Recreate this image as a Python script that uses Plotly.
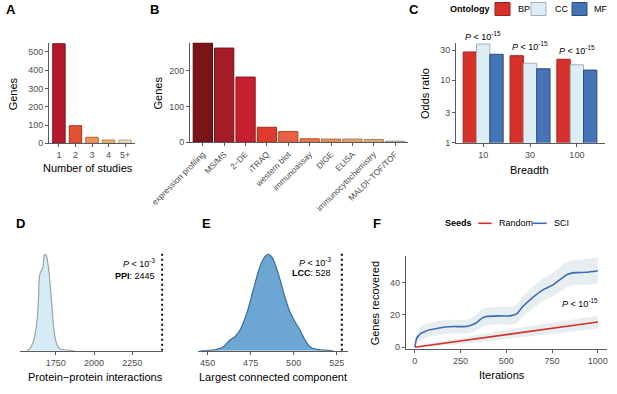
import plotly.graph_objects as go

W, H = 617, 394
FONT = "Liberation Sans, Arial, Helvetica, sans-serif"

# ---------------- data ----------------
# A: number of studies
study_counts = ["1", "2", "3", "4", "5+"]
study_genes = [545, 96, 33, 18, 18]
study_fill = ["#b31b2c", "#e2502f", "#f2915b", "#e9b470", "#e8d6bf"]
study_line = ["#7d1019", "#a8321c", "#b8602f", "#b58340", "#b8a58e"]

# B: methods
methods = ["expression profiling", "MS/MS", "2\u2212DE", "iTRAQ", "western blot",
           "immunoassay", "DIGE", "ELISA", "immunocytochemistry", "MALDI\u2212TOF/TOF"]
method_genes = [278, 263, 182, 42, 30, 10, 9, 9, 8, 3]
method_fill = ["#7b1418", "#a51b27", "#c7202d", "#df3a2a", "#eb5f45",
               "#e27a4f", "#e39260", "#e5a36e", "#d9b080", "#c9bba6"]
method_line = ["#4a0a0d", "#6e1019", "#8e1620", "#a8281d", "#b4452f",
               "#ad5a36", "#ad6c45", "#ad7a50", "#a5845e", "#989080"]

# C: odds ratios by breadth and ontology
breadth = ["10", "30", "100"]
or_bp = [28.0, 24.4, 21.4]
or_cc = [37.5, 18.5, 17.5]
or_mf = [25.7, 15.1, 14.4]
ontologies = ["BP", "CC", "MF"]
ont_fill = ["#d7312b", "#dcedf5", "#4474b5"]
ont_line = ["#a01f1c", "#a3b1ba", "#2a4a80"]

# D: null distribution of protein-protein interactions (relative density)
ppi_x = [1560, 1582, 1604, 1626, 1637, 1648, 1665, 1676, 1685, 1691, 1702,
         1713, 1724, 1734, 1745, 1756, 1767, 1778, 1822, 1870]
ppi_density = [0, 2.3, 9, 27, 50.7, 77.3, 82.3, 95.7, 96.3, 94, 84,
               67.3, 47.3, 27.3, 14, 6.7, 3.3, 1.7, 0.7, 0]
ppi_observed = 2445

# E: null distribution of largest connected component (relative density)
lcc_x = [446, 452, 455.2, 459.1, 463, 465.9, 468.8, 472.7, 476.5, 480.4, 483.3,
         485.2, 487.2, 491, 494.9, 497.8, 500.8, 503.7, 506.6, 509.5, 513.4, 518, 523]
lcc_density = [0, 0.5, 1.3, 4, 10.7, 14, 20.7, 37.3, 60.7, 84, 94,
               96.7, 94, 77.3, 54, 39, 29, 20.7, 10.7, 4, 1.3, 0.6, 0.2]
lcc_observed = 528

# F: genes recovered over iterations
sci_iter = [0, 10, 20, 35, 55, 75, 100, 155, 210, 280, 320, 345, 365, 390,
            465, 520, 555, 590, 645, 700, 755, 790, 835, 880, 935, 1000]
sci_mean = [0, 5.6, 7.0, 8.7, 9.7, 10.7, 11.1, 12.4, 12.8, 12.8, 14.2, 15.9, 17.9, 19.0,
            19.4, 19.4, 20.6, 25.2, 30.9, 35.5, 38.6, 41.6, 45.2, 46.2, 46.4, 47.4]
sci_hi = [0, 9, 11, 13, 14, 15, 15.5, 16.5, 17, 17, 19, 21, 23.5, 24.5,
          25, 25, 26.5, 31.5, 37.5, 42.5, 46, 49.5, 53, 54, 54.5, 55.5]
sci_lo = [0, 2.5, 3.5, 4.5, 5.5, 6.5, 6.8, 8, 8.5, 8.5, 9.5, 11, 12.5, 13.5,
          14, 14, 15, 19, 24, 28.5, 31.5, 34, 37.5, 38.5, 38.5, 39.5]
rnd_iter = [0, 250, 500, 750, 1000]
rnd_mean = [0, 3.9, 7.9, 11.8, 15.6]
rnd_hi = [0.5, 5.8, 10.8, 15.2, 19.5]
rnd_lo = [0, 2.0, 5.0, 8.3, 11.5]

# ---------------- helpers ----------------
def xd(a, b):
    return [a / W, b / W]

def yd(top, bot):
    return [1 - bot / H, 1 - top / H]

AX = dict(showline=True, linecolor="#5a5a5a", linewidth=1, ticks="outside", ticklen=3,
          tickcolor="#5a5a5a", tickwidth=1, tickfont=dict(size=9, color="#4d4d4d", family=FONT),
          showgrid=False, zeroline=False, fixedrange=True, automargin=False)
HID = dict(visible=False, fixedrange=True, showgrid=False, zeroline=False)

annotations = []

def ann(x, y, text, size=11, xanchor="center", angle=0, color="#000", bold=False):
    if bold:
        text = "<b>" + text + "</b>"
    annotations.append(dict(x=x / W, y=1 - y / H, xref="paper", yref="paper", text=text,
                            showarrow=False, xanchor=xanchor, yanchor="middle", textangle=angle,
                            font=dict(size=size, color=color, family=FONT)))

fig = go.Figure()

# A
fig.add_trace(go.Bar(x=study_counts, y=study_genes, width=0.75,
                     marker=dict(color=study_fill, line=dict(color=study_line, width=1)),
                     xaxis="x", yaxis="y", showlegend=False))
# B
fig.add_trace(go.Bar(x=methods, y=method_genes, width=0.9,
                     marker=dict(color=method_fill, line=dict(color=method_line, width=1)),
                     xaxis="x2", yaxis="y2", showlegend=False))
# C
for name, vals, fc, lc in zip(ontologies, [or_bp, or_cc, or_mf], ont_fill, ont_line):
    fig.add_trace(go.Bar(x=breadth, y=vals, name=name,
                         marker=dict(color=fc, line=dict(color=lc, width=1)),
                         xaxis="x3", yaxis="y3", showlegend=False))
# D
fig.add_trace(go.Scatter(x=ppi_x, y=ppi_density, mode="lines", line=dict(color="#9aa4aa", width=1.2, shape="spline"),
                         fill="tozeroy", fillcolor="#d5ebf5", xaxis="x4", yaxis="y4", showlegend=False))
fig.add_trace(go.Scatter(x=[ppi_observed, ppi_observed], y=[0, 98], mode="lines",
                         line=dict(color="#000", width=2, dash="2px,3px"),
                         xaxis="x4", yaxis="y4", showlegend=False))
# E
fig.add_trace(go.Scatter(x=lcc_x, y=lcc_density, mode="lines", line=dict(color="#3d6c96", width=1.2, shape="spline"),
                         fill="tozeroy", fillcolor="#6ba7d2", xaxis="x5", yaxis="y5", showlegend=False))
fig.add_trace(go.Scatter(x=[lcc_observed, lcc_observed], y=[0, 98], mode="lines",
                         line=dict(color="#000", width=2, dash="2px,3px"),
                         xaxis="x5", yaxis="y5", showlegend=False))
# F bands
BAND = "#e7eef1"
for it, lo, hi in [(rnd_iter, rnd_lo, rnd_hi), (sci_iter, sci_lo, sci_hi)]:
    fig.add_trace(go.Scatter(x=it, y=lo, mode="lines", line=dict(width=0, shape="spline"),
                             xaxis="x6", yaxis="y6", showlegend=False, hoverinfo="skip"))
    fig.add_trace(go.Scatter(x=it, y=hi, mode="lines", line=dict(width=0, shape="spline"),
                             fill="tonexty", fillcolor=BAND, xaxis="x6", yaxis="y6",
                             showlegend=False, hoverinfo="skip"))
fig.add_trace(go.Scatter(x=rnd_iter, y=rnd_mean, mode="lines", name="Random",
                         line=dict(color="#d7302a", width=1.6), xaxis="x6", yaxis="y6", showlegend=False))
fig.add_trace(go.Scatter(x=sci_iter, y=sci_mean, mode="lines", name="SCI",
                         line=dict(color="#3d6cb3", width=1.6, shape="spline", smoothing=0.6),
                         xaxis="x6", yaxis="y6", showlegend=False))

layout = dict(
    width=W, height=H, margin=dict(l=0, r=0, t=0, b=0),
    paper_bgcolor="white", plot_bgcolor="white",
    font=dict(family=FONT, size=9, color="#000"),
    barmode="group", bargap=0.147, bargroupgap=0,
    xaxis=dict(AX, domain=xd(49, 135), type="category", range=[-0.6, 4.6], anchor="y"),
    yaxis=dict(AX, domain=yd(43, 143.3), range=[0, 549], tickvals=[0, 100, 200, 300, 400, 500], anchor="x"),
    xaxis2=dict(AX, domain=xd(190, 408), type="category", range=[-0.6, 9.6], anchor="y2",
                tickangle=-45, tickfont=dict(size=8.3, color="#4d4d4d", family=FONT)),
    yaxis2=dict(AX, domain=yd(42.7, 142.3), range=[0, 278], tickvals=[0, 100, 200], anchor="x2"),
    xaxis3=dict(AX, domain=xd(456, 605), type="category", range=[-0.58, 2.6], anchor="y3"),
    yaxis3=dict(AX, domain=yd(42.7, 142.7), type="log", range=[0, 1.595], tickvals=[1, 3, 10, 30], anchor="x3"),
    xaxis4=dict(AX, domain=xd(20, 163.3), range=[1517, 2452], tickvals=[1750, 2000, 2250], anchor="y4"),
    yaxis4=dict(HID, domain=yd(250.7, 350.7), range=[0, 100], anchor="x4"),
    xaxis5=dict(AX, domain=xd(198, 348), range=[444.4, 531.6], tickvals=[450, 475, 500, 525], anchor="y5"),
    yaxis5=dict(HID, domain=yd(250.7, 350.7), range=[0, 100], anchor="x5"),
    xaxis6=dict(AX, domain=xd(405.7, 607), range=[-50, 1050], tickvals=[0, 250, 500, 750, 1000], anchor="y6"),
    yaxis6=dict(AX, domain=yd(256, 349.3), range=[-1.3, 56.5], tickvals=[0, 20, 40], anchor="x6"),
)

# panel letters
for lab, x, y in [("A", 11, 10), ("B", 154, 10), ("C", 414, 9), ("D", 20, 223), ("E", 206, 223), ("F", 377, 223)]:
    ann(x, y, lab, size=13, bold=True)

# axis titles
ann(13.3, 94, "Genes", angle=-90)
ann(87.5, 168.3, "Number of studies")
ann(157.5, 93, "Genes", angle=-90)
ann(425, 94, "Odds ratio", angle=-90)
ann(529, 170, "Breadth")
ann(95, 376.7, "Protein\u2212protein interactions")
ann(273.3, 376.7, "Largest connected component")
ann(375, 303.3, "Genes recovered", angle=-90)
ann(502, 375, "Iterations")

# statistics (category axis: annotation x is the category index)
P15 = "<i>P</i> < 10<sup>-15</sup>"
for i, y in enumerate([35.5, 46, 49.5]):
    annotations.append(dict(x=i, y=1 - y / H, xref="x3", yref="paper", text=P15,
                            showarrow=False, xanchor="center", yanchor="middle",
                            font=dict(size=9, color="#000", family=FONT)))
ann(156.7, 263.3, "<i>P</i> < 10<sup>-3</sup>", size=9, xanchor="right")
ann(156.7, 276, "<b>PPI</b>: 2445", size=9, xanchor="right")
ann(332.7, 261.7, "<i>P</i> < 10<sup>-3</sup>", size=9, xanchor="right")
ann(332.7, 273.3, "<b>LCC</b>: 528", size=9, xanchor="right")
ann(600, 302.7, P15, size=9, xanchor="right")

# legends (manual keys)
shapes = []
ann(469.5, 9, "Ontology", size=9, bold=True)
for (x0, x1), name, fc, lc, tx in zip([(495, 510), (531, 546), (572, 587)], ontologies, ont_fill, ont_line, [516, 553, 592]):
    shapes.append(dict(type="rect", xref="paper", yref="paper", x0=x0 / W, x1=x1 / W,
                       y0=1 - 15.5 / H, y1=1 - 2.5 / H, fillcolor=fc, line=dict(color=lc, width=1)))
    ann(tx, 9, name, size=9, xanchor="left")
ann(458, 223.3, "Seeds", size=9, bold=True)
for (x0, x1), name, col, tx in zip([(478.3, 491.7), (532.7, 546.7)], ["Random", "SCI"], ["#d7302a", "#3d6cb3"], [496.7, 551.5]):
    shapes.append(dict(type="line", xref="paper", yref="paper", x0=x0 / W, x1=x1 / W,
                       y0=1 - 223.3 / H, y1=1 - 223.3 / H, line=dict(color=col, width=1.6)))
    ann(tx, 223.3, name, size=9, xanchor="left")

layout["annotations"] = annotations
layout["shapes"] = shapes
fig.update_layout(**layout)
fig.write_html("out.html", config={"displayModeBar": False},
               post_script="document.body.style.margin='0';document.body.style.overflow='hidden';")
